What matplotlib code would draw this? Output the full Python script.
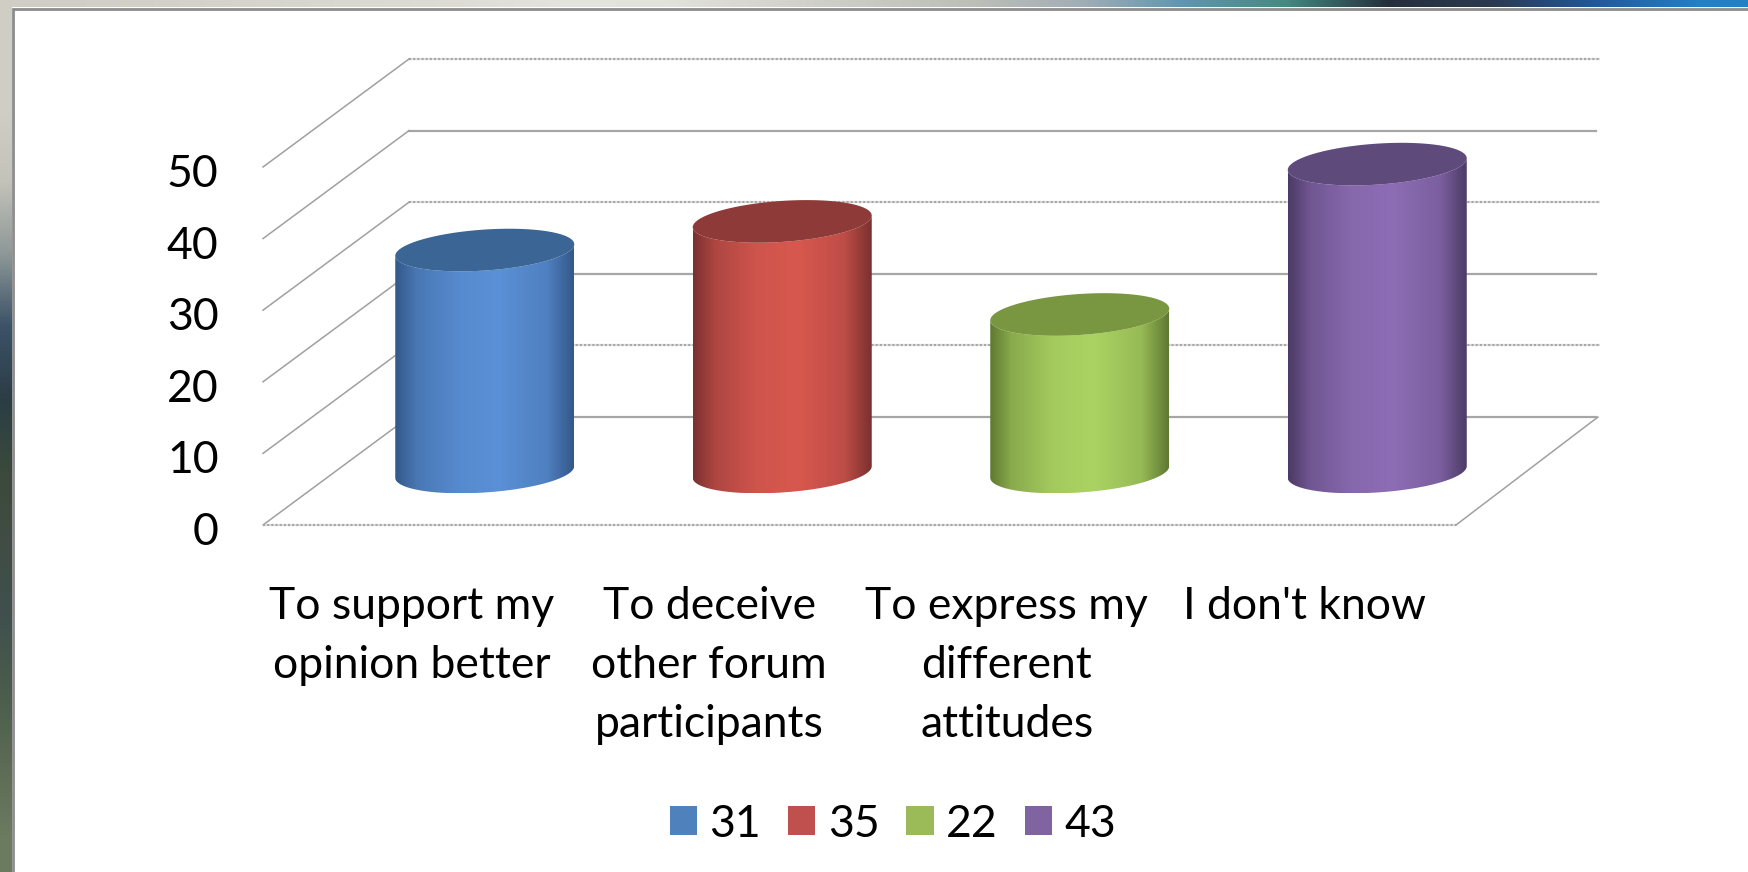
import numpy as np
import matplotlib
matplotlib.use('Agg')
import matplotlib.pyplot as plt
from matplotlib.colors import LinearSegmentedColormap, to_rgb
from matplotlib.patches import Patch, Polygon
from matplotlib.path import Path
from matplotlib.transforms import Affine2D, IdentityTransform

plt.rcParams['font.family'] = ['Lato', 'DejaVu Sans']

# data
categories = ['To support my\nopinion better', 'To deceive\nother forum\nparticipants',
              'To express my\ndifferent\nattitudes', "I don't know"]
values = [31, 35, 22, 43]
legend_labels = ['31', '35', '22', '43']
y_ticks = [0, 10, 20, 30, 40, 50]
dotted_levels = [10, 30, 50]

legend_colors = ['#4F81BD', '#C0504D', '#9BBB59', '#8064A2']
cap_colors = ['#3B6594', '#8E3A38', '#799640', '#5F4A7C']
edge_colors = ['#34598A', '#7A3130', '#607A32', '#4C3A66']
mid_colors = ['#5A90D6', '#D8584F', '#ABD363', '#8D6DB5']

W, H = 1749, 872
fig = plt.figure(figsize=(W / 100, H / 100), dpi=100, facecolor='white')

# slide background showing round the white panel
bg = fig.add_axes([0, 0, 1, 1], zorder=-1)
bg.axis('off')
left_strip = ['#cfcdc4', '#d0cec5', '#c4c3ba', '#8e9897', '#3c5268', '#2b3d45',
              '#3b4a3c', '#414d45', '#40504e', '#4b5c4c', '#5b6b55', '#6b7b60']
top_strip = ['#cfcdc4', '#d2d0c8', '#d6d4cc', '#dad9d1', '#dedcd5', '#e4e4de', '#e2e2dc', '#d5d5ce',
             '#c8c9c3', '#bcbeb8', '#a2aeb6', '#5f96b0', '#448a80', '#252f3c', '#2c3850', '#20589c', '#2080c8']
bg.imshow(np.array([[to_rgb(c)] for c in left_strip]), extent=(0, 11.5, H, 0), aspect='auto',
          interpolation='bilinear', zorder=1)
bg.imshow(np.array([[to_rgb(c) for c in top_strip]]), extent=(0, W, 7.5, 0), aspect='auto',
          interpolation='bilinear', zorder=2)
bg.plot([12.8, 12.8, W], [H, 8.6, 8.6], color='#8c8c8c', lw=2.0, zorder=3, solid_joinstyle='miter')
bg.set_xlim(0, W)
bg.set_ylim(H, 0)

# front plane of the 3D box
x0, x1, y0, y1 = 263, 1453, 525, 167
ax = fig.add_axes([x0 / W, 1 - y0 / H, (x1 - x0) / W, (y0 - y1) / H])
ax.set_xlim(-0.5, 3.5)
ax.set_ylim(0, 50)
ax.patch.set_alpha(0)
for s in ax.spines.values():
    s.set_visible(False)

depth = (146, 108)
mid = (73, 53)
a, b, shear = 89.5, 20.5, 0.065
grid_color = '#a6a6a6'
front_end = 3.51
back_end = 3.5


def at(x, v):
    # pixel offsets around a data position
    px, py = ax.transData.transform((x, v))
    return Affine2D().translate(px, py)


def dotted_line(xs, ys, transform):
    ax.plot(xs, ys, transform=transform, color='#dedede', lw=1.6, clip_on=False, zorder=1)
    ax.plot(xs, ys, transform=transform, color=grid_color, lw=1.5, ls=(0, (1, 1)), clip_on=False, zorder=1)


back = ax.transData + Affine2D().translate(*depth)
for v in y_ticks:
    if v in dotted_levels:
        dotted_line([-0.5, back_end], [v, v], back)
    else:
        ax.plot([-0.5, back_end - 0.01], [v, v], transform=back, color=grid_color, lw=1.6, clip_on=False, zorder=1)
    ax.plot([0, depth[0]], [0, depth[1]], transform=at(-0.5, v), color='#a0a0a0', lw=1.1, clip_on=False, zorder=1)
dotted_line([-0.5, front_end], [0, 0], ax.transData)
ax.plot([0, depth[0] - 4], [0, depth[1]], transform=at(front_end, 0), color='#a0a0a0', lw=1.1, clip_on=False, zorder=1)


def mix(c1, c2, f):
    return tuple(np.array(to_rgb(c1)) * (1 - f) + np.array(to_rgb(c2)) * f)


# cylinders
for i, v in enumerate(values):
    stops = [(0, edge_colors[i]), (0.12, mix(edge_colors[i], mid_colors[i], 0.55)),
             (0.35, mix(edge_colors[i], mid_colors[i], 0.9)), (0.58, mid_colors[i]),
             (0.85, mix(edge_colors[i], mid_colors[i], 0.72)), (1, edge_colors[i])]
    cmap = LinearSegmentedColormap.from_list('c', stops)
    ang = np.linspace(np.pi, 2 * np.pi, 80)
    ex = a * np.cos(ang)
    ey = b * np.sin(ang) + ex * shear
    bx, by = ax.transData.transform((i, 0))
    tx, ty = ax.transData.transform((i, v))
    px = np.concatenate([bx + mid[0] + ex, tx + mid[0] + ex[::-1]])
    py = np.concatenate([by + mid[1] + ey, ty + mid[1] + ey[::-1]])
    body = Path(np.column_stack([px, py]))

    inv = ax.transData.inverted()
    (dx0, dy0) = inv.transform((px.min(), py.min()))
    (dx1, dy1) = inv.transform((px.max(), py.max()))
    im = ax.imshow(np.linspace(0, 1, 128)[None, :], extent=(dx0, dx1, dy0, dy1), cmap=cmap, aspect='auto',
                   zorder=3, interpolation='bilinear')
    im.set_clip_box(fig.bbox)
    im.set_clip_path(body, IdentityTransform())

    ang = np.linspace(0, 2 * np.pi, 160)
    cx = a * np.cos(ang)
    cy = b * np.sin(ang) + cx * shear
    ax.add_patch(Polygon(np.column_stack([tx + mid[0] + cx, ty + mid[1] + cy]), closed=True,
                         transform=IdentityTransform(), facecolor=cap_colors[i], edgecolor='none',
                         zorder=4, clip_on=False))

ax.set_xlim(-0.5, 3.5)
ax.set_ylim(0, 50)

ax.set_yticks(y_ticks)
ax.set_xticks(range(len(categories)))
ax.set_xticklabels(categories, linespacing=1.54)
ax.tick_params(axis='y', length=0, pad=32, labelsize=32)
ax.tick_params(axis='x', length=0, pad=44, labelsize=32)
for lab in ax.get_yticklabels():
    lab.set_transform(lab.get_transform() + Affine2D().translate(0, -3.5))

handles = [Patch(facecolor=c, edgecolor='none') for c in legend_colors]
fig.legend(handles, legend_labels, ncol=4, loc='center', bbox_to_anchor=(893 / W, 1 - 824 / H),
           frameon=False, fontsize=32, handlelength=0.62, handleheight=0.62, handletextpad=0.28, columnspacing=0.6)

fig.savefig('out.png', dpi=100)
